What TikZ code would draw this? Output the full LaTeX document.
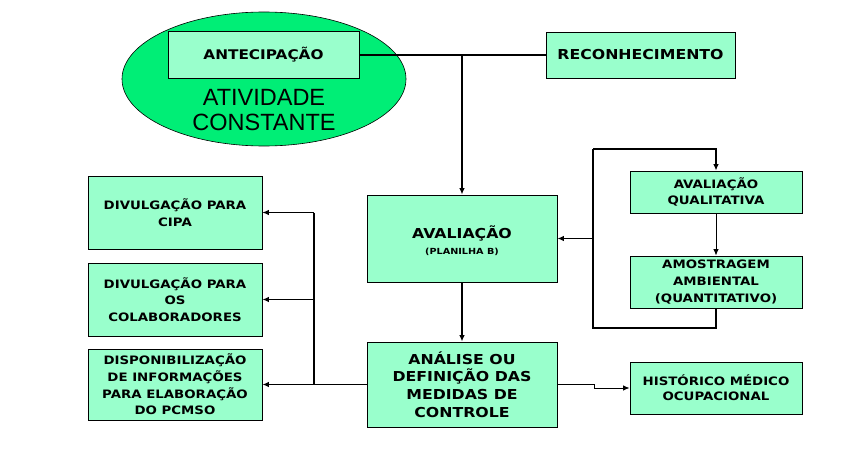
\documentclass[tikz,border=0pt]{standalone}
\usepackage{fontspec}
\setmainfont{DejaVu Sans}[FakeStretch=1.15]
\newfontfamily\plainfont{Liberation Sans}
\usetikzlibrary{arrows.meta,shapes.geometric}
\definecolor{boxgreen}{RGB}{153,255,204}
\definecolor{ovalgreen}{RGB}{0,238,118}
\tikzset{
  box/.style={draw=black, line width=0.8pt, fill=boxgreen, align=center,
    inner sep=0pt, font=\bfseries\fontsize{13.7}{17.7}\selectfont},
  smallbox/.style={box, font=\bfseries\fontsize{11.6}{16.7}\selectfont},
  link/.style={line width=1.8pt},
  thinlink/.style={line width=1pt},
  tip/.style={-{Latex[length=6.5pt,width=5.5pt]}}
}
\begin{document}
\begin{tikzpicture}[x=1pt, y=-1pt]
  \useasboundingbox (0,0) rectangle (851,460);
  % background oval
  \node (oval) [ellipse, draw=black, line width=0.6pt, fill=ovalgreen,
    minimum width=284pt, minimum height=134pt] at (264,79) {};
  \node (antec) [box, minimum width=191pt, minimum height=47pt,
    font=\bfseries\fontsize{13.3}{15}\selectfont] at (263.5,55) {ANTECIPAÇÃO};
  \node (const) [align=center, font=\plainfont\fontsize{23.5}{25}\selectfont] at (264,110)
    {ATIVIDADE\\CONSTANTE};
  \node (recon) [box, minimum width=189pt, minimum height=46pt] at (640.5,55) {RECONHECIMENTO};

  % middle column
  \node (aval) [box, minimum width=190pt, minimum height=87pt] at (462,238.5)
    {\raisebox{-8pt}[0pt][0pt]{\begin{tabular}{@{}c@{}}AVALIAÇÃO\\[-2pt]
      {\fontsize{8.4}{9}\selectfont (PLANILHA B)}\end{tabular}}};
  \node (analise) [box, minimum width=190pt, minimum height=85pt] at (462,384.5)
    {ANÁLISE OU\\DEFINIÇÃO DAS\\MEDIDAS DE\\CONTROLE};

  % right column
  \node (qual) [smallbox, minimum width=172pt, minimum height=42pt] at (716,192)
    {AVALIAÇÃO\\QUALITATIVA};
  \node (amost) [smallbox, minimum width=172pt, minimum height=52pt] at (716,282)
    {AMOSTRAGEM\\AMBIENTAL\\(QUANTITATIVO)};
  \node (hist) [smallbox, minimum width=172pt, minimum height=52pt,
    font=\bfseries\fontsize{11.6}{15}\selectfont] at (716,388)
    {HISTÓRICO MÉDICO\\OCUPACIONAL};

  % left column
  \node (cipa) [smallbox, minimum width=174pt, minimum height=73pt] at (175,212.5)
    {DIVULGAÇÃO PARA\\CIPA};
  \node (colab) [smallbox, minimum width=174pt, minimum height=73pt] at (175,299.5)
    {DIVULGAÇÃO PARA\\OS\\COLABORADORES};
  \node (disp) [smallbox, minimum width=174pt, minimum height=71pt] at (175,384.5)
    {DISPONIBILIZAÇÃO\\DE INFORMAÇÕES\\PARA ELABORAÇÃO\\DO PCMSO};

  \coordinate (top) at (462,55);
  \coordinate (looptop) at (593,149);
  \coordinate (loopbot) at (593,328);
  \coordinate (jog) at (594,384.5);
  \coordinate (leftbus) at (314,384.5);

  % connectors
  \draw[link] (antec.east) -- (recon.west);
  \draw[link, tip] (top) -- (aval.north);
  \draw[link, tip] (looptop) -| (qual.north);
  \draw[thinlink, tip] (qual) -- (amost);
  \draw[link] (amost.south) |- (loopbot) -- (looptop);
  \draw[link, tip] (aval.east -| looptop) -- (aval.east);
  \draw[link, tip] (aval) -- (analise);
  \draw[thinlink, tip] (analise.east) -- (jog) -- (jog |- hist.west) -- (hist.west);
  \draw[link, tip] (analise.west) -- (disp.east);
  \draw[link] (leftbus) -- (leftbus |- cipa.east);
  \draw[thinlink, tip] (leftbus |- cipa.east) -- (cipa.east);
  \draw[link, tip] (leftbus |- colab.east) -- (colab.east);
\end{tikzpicture}
\end{document}
